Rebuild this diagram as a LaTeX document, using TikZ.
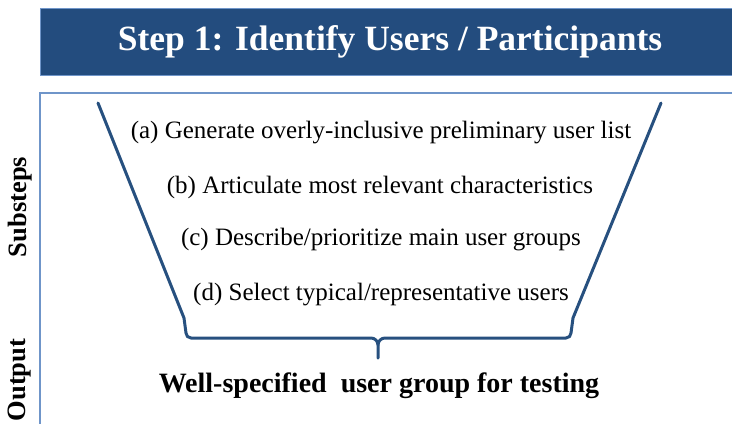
\documentclass[tikz,border=0pt]{standalone}
\usepackage{fontspec}
\setmainfont{Liberation Serif}
\definecolor{headblue}{HTML}{234C7E}
\definecolor{edgeblue}{HTML}{6F95C9}
\definecolor{funnelblue}{HTML}{27507F}
\begin{document}
\begin{tikzpicture}[x=1pt,y=-1pt,
  substep/.style={font=\fontsize{25}{30}\selectfont, anchor=center, inner sep=0pt},
  sidelabel/.style={font=\bfseries\fontsize{26.5}{31}\selectfont, rotate=90, anchor=center, inner sep=0pt},
  funnel/.style={draw=funnelblue, line width=3pt, line join=round, line cap=round}]
  \useasboundingbox (0,0) rectangle (732,424);
  % header banner
  \fill[headblue] (40,8) rectangle (732,75);
  \draw[edgeblue, line width=1pt] (40,8) -- (732,8) (40,8) -- (40,75) -- (732,75);
  \node[text=white, font=\bfseries\fontsize{35.5}{42}\selectfont, inner sep=0pt] (title) at (390,42) {Step 1: Identify Users / Participants};
  % content frame
  \draw[edgeblue, line width=1.5pt] (732,93) -- (40,93) -- (40,424);
  % side labels
  \node[sidelabel] (lsub) at (20,207) {Substeps};
  \node[sidelabel] (lout) at (20,380) {Output};
  % substeps
  \node[substep] (sa) at (381,133) {(a) Generate overly-inclusive preliminary user list};
  \node[substep] (sb) at (380,187) {(b) Articulate most relevant characteristics};
  \node[substep] (sc) at (381,240) {(c) Describe/prioritize main user groups};
  \node[substep] (sd) at (381,295) {(d) Select typical/representative users};
  % funnel walls and bracket
  \coordinate (tl) at (98,103);
  \coordinate (bl) at (184,318);
  \coordinate (tr) at (661,103);
  \coordinate (br) at (573,318);
  \coordinate (stem) at (378,358);
  \draw[funnel] (tl) -- (bl) -- (186,333) to[out=-90,in=180] (191,338) -- (371,338)
        to[out=0,in=90] (378,345) -- (stem);
  \draw[funnel] (tr) -- (br) -- (571,333) to[out=-90,in=0] (566,338) -- (385,338)
        to[out=180,in=90] (378,345);
  % output
  \node[font=\bfseries\fontsize{28}{33}\selectfont, inner sep=0pt] (outtext) at (379,386) {Well-specified\ \ user group for testing};
\end{tikzpicture}
\end{document}
